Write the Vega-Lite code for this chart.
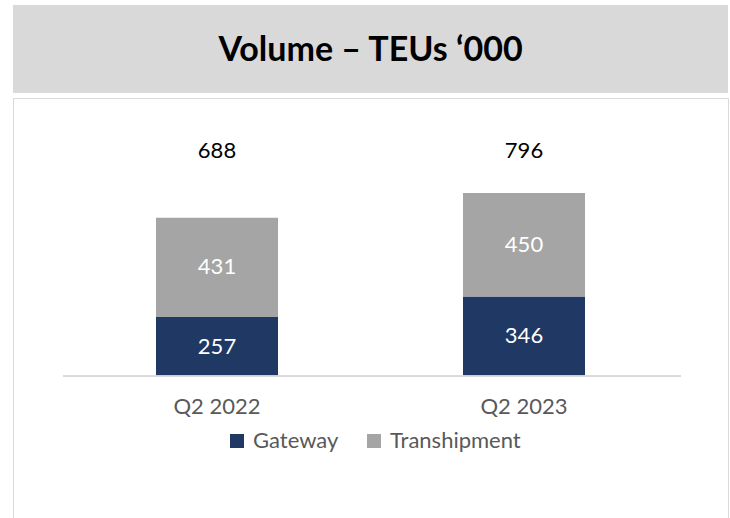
{
  "$schema": "https://vega.github.io/schema/vega-lite/v6.json",
  "background": "white",
  "padding": {"left": 12, "top": 5, "right": 3, "bottom": 0},
  "spacing": 4,
  "config": {"font": "Lato", "view": {"stroke": null}},
  "datasets": {
    "volume": [
      {"quarter": "Q2 2022", "segment": "Gateway", "teu": 257},
      {"quarter": "Q2 2022", "segment": "Transhipment", "teu": 431},
      {"quarter": "Q2 2023", "segment": "Gateway", "teu": 346},
      {"quarter": "Q2 2023", "segment": "Transhipment", "teu": 450}
    ],
    "heading": [{"title": "Volume – TEUs ‘000"}]
  },
  "vconcat": [
    {
      "width": 715,
      "height": 88,
      "view": {"fill": "#D9D9D9", "stroke": null},
      "data": {"name": "heading"},
      "mark": {"type": "text", "fontSize": 34, "fontWeight": "bold", "color": "#000000", "font": "Lato", "baseline": "middle", "align": "center", "dy": 2},
      "encoding": {"text": {"field": "title"}}
    },
    {
      "width": 715,
      "height": 421,
      "view": {"stroke": "#D9D9D9", "strokeWidth": 1, "fill": "white"},
      "data": {"name": "volume"},
      "encoding": {
        "x": {
          "field": "quarter",
          "type": "nominal",
          "sort": null,
          "scale": {"paddingInner": 0.6026, "paddingOuter": 0.4658},
          "axis": {"title": null, "domain": false, "ticks": false, "labelAngle": 0, "offset": -142.5, "labelPadding": 20, "labelFontSize": 22, "labelColor": "#595959", "labelFont": "Lato"}
        }
      },
      "layer": [
        {
          "mark": {"type": "bar"},
          "encoding": {
            "y": {"field": "teu", "type": "quantitative", "stack": "zero", "scale": {"domain": [-621, 1209], "nice": false, "zero": false}, "axis": null},
            "color": {
              "field": "segment",
              "type": "nominal",
              "scale": {"domain": ["Gateway", "Transhipment"], "range": ["#203864", "#A5A5A5"]},
              "legend": {"title": null, "orient": "none", "legendX": 213, "legendY": 425, "direction": "horizontal", "symbolType": "square", "symbolSize": 196, "symbolStrokeWidth": 0, "labelFontSize": 22, "labelColor": "#595959", "labelFont": "Lato", "columnPadding": 24, "labelOffset": 5}
            },
            "order": {"field": "segment", "sort": "ascending"}
          }
        },
        {
          "mark": {"type": "text", "color": "white", "fontSize": 22, "baseline": "middle"},
          "encoding": {
            "y": {"field": "teu", "type": "quantitative", "stack": "zero", "bandPosition": 0.5},
            "detail": {"field": "segment"},
            "order": {"field": "segment", "sort": "ascending"},
            "text": {"field": "teu", "type": "quantitative"}
          }
        },
        {
          "mark": {"type": "text", "color": "black", "fontSize": 22, "baseline": "middle"},
          "encoding": {
            "y": {"datum": 979, "type": "quantitative"},
            "text": {"aggregate": "sum", "field": "teu", "type": "quantitative"}
          }
        },
        {
          "mark": {"type": "rule", "color": "#D9D9D9", "strokeWidth": 1.5},
          "encoding": {
            "x": {"datum": "Q2 2022", "bandPosition": -0.762},
            "x2": {"datum": "Q2 2023", "bandPosition": 1.787},
            "y": {"datum": 0, "type": "quantitative"}
          }
        }
      ]
    }
  ]
}
